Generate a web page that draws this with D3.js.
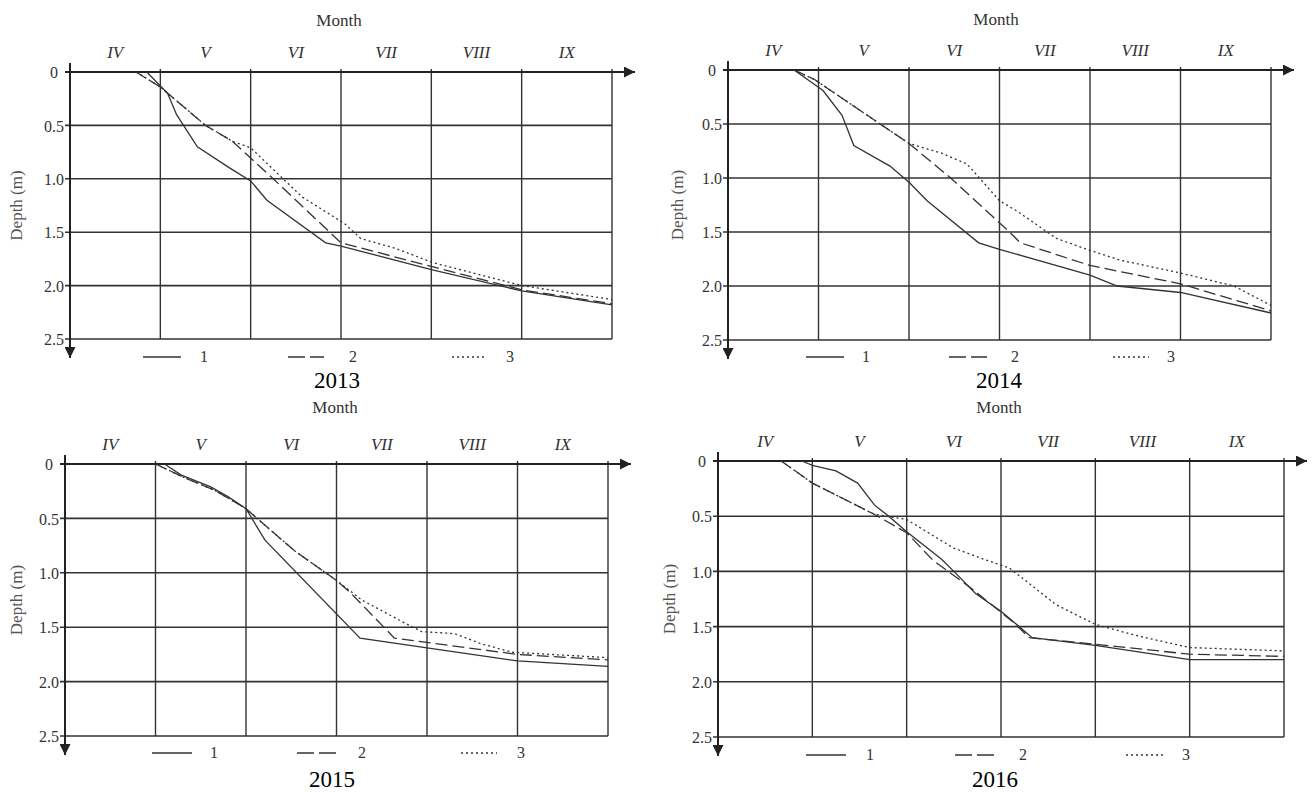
<!DOCTYPE html>
<html>
<head>
<meta charset="utf-8">
<script src="https://cdn.jsdelivr.net/npm/d3@7"></script>
<style>
  body { margin: 0; background: #fff; }
  svg text { font-family: "Liberation Serif", "DejaVu Serif", serif; }
</style>
</head>
<body>
<svg id="chart" width="1312" height="792"></svg>
<script>
// month labels (IV = April ... IX = September), depth ticks in metres
const months = ["IV", "V", "VI", "VII", "VIII", "IX"];
const depthTicks = [0, 0.5, 1.0, 1.5, 2.0, 2.5];
const years = ["2013", "2014", "2015", "2016"];
const seriesNames = ["1", "2", "3"];

// [months since start of April, freezing depth m]
const d2013_1 = [[0.85,0],[1.08,0.2],[1.18,0.4],[1.41,0.7],[1.77,0.9],[2.0,1.02],[2.18,1.2],[2.83,1.6],[3.0,1.63],[4.0,1.85],[5.0,2.05],[6.0,2.18]];
const d2013_2 = [[0.73,0],[1.0,0.14],[1.5,0.5],[1.8,0.65],[2.25,1.0],[3.0,1.6],[4.0,1.82],[5.0,2.04],[6.0,2.17]];
const d2013_3 = [[0.73,0],[1.0,0.14],[1.5,0.5],[1.8,0.65],[2.0,0.71],[2.57,1.17],[3.04,1.42],[3.22,1.56],[3.6,1.65],[4.0,1.78],[5.0,2.0],[6.0,2.13]];

const d2014_1 = [[0.73,0],[1.05,0.19],[1.26,0.42],[1.39,0.7],[1.79,0.89],[2.0,1.04],[2.2,1.21],[2.77,1.6],[3.0,1.66],[4.0,1.9],[4.3,2.0],[5.0,2.06],[6.0,2.25]];
const d2014_2 = [[0.73,0],[0.96,0.09],[1.68,0.5],[2.0,0.68],[2.46,1.0],[3.11,1.5],[3.23,1.6],[4.0,1.81],[5.0,1.98],[6.0,2.23]];
const d2014_3 = [[0.73,0],[0.96,0.09],[1.68,0.5],[2.0,0.68],[2.36,0.77],[2.64,0.87],[3.0,1.21],[3.2,1.31],[3.63,1.56],[4.0,1.67],[4.33,1.76],[5.0,1.88],[5.59,2.0],[6.0,2.18]];

const d2015_1 = [[1.1,0],[1.28,0.1],[1.61,0.21],[1.8,0.3],[2.0,0.41],[2.21,0.7],[3.26,1.6],[4.0,1.69],[5.0,1.81],[6.0,1.86]];
const d2015_2 = [[1.0,0],[1.33,0.13],[1.65,0.24],[2.0,0.41],[2.15,0.52],[2.54,0.8],[3.0,1.07],[3.15,1.18],[3.64,1.6],[4.0,1.64],[5.0,1.75],[6.0,1.8]];
const d2015_3 = [[1.0,0],[1.33,0.13],[1.65,0.24],[2.0,0.41],[2.15,0.52],[2.54,0.8],[3.0,1.07],[3.28,1.25],[3.75,1.46],[3.94,1.54],[4.31,1.56],[4.59,1.65],[4.94,1.73],[6.0,1.78]];

const d2016_1 = [[0.89,0],[1.0,0.04],[1.25,0.09],[1.48,0.2],[1.66,0.4],[1.81,0.5],[2.0,0.64],[2.37,0.89],[2.5,1.0],[2.73,1.2],[3.0,1.36],[3.33,1.6],[4.0,1.67],[5.0,1.8],[6.0,1.8]];
const d2016_2 = [[0.67,0],[1.0,0.2],[1.65,0.48],[2.0,0.65],[2.28,0.9],[2.68,1.15],[3.13,1.46],[3.3,1.6],[4.0,1.66],[5.0,1.75],[6.0,1.77]];
const d2016_3 = [[0.67,0],[1.0,0.2],[1.65,0.48],[2.0,0.53],[2.23,0.65],[2.5,0.79],[2.82,0.89],[3.09,0.97],[3.33,1.13],[3.58,1.3],[4.0,1.48],[4.43,1.58],[5.0,1.69],[6.0,1.72]];

const allSeries = [
    [d2013_1, d2013_2, d2013_3],
    [d2014_1, d2014_2, d2014_3],
    [d2015_1, d2015_2, d2015_3],
    [d2016_1, d2016_2, d2016_3]
];

// panel layout (pixels)
const layout = [
    {x0: 70,  x1: 612,  y0: 72,  y1: 339, titleX: 339, titleY: 26,  yearX: 337, yearY: 388, depthX: 22,  legY: 357, leg: [[143,181,204],[288,324,353],[452,487,510]]},
    {x0: 728, x1: 1271, y0: 70,  y1: 340, titleX: 996, titleY: 25,  yearX: 999, yearY: 388, depthX: 683, legY: 357, leg: [[806,844,866],[949,987,1015],[1113,1149,1171]]},
    {x0: 65,  x1: 608,  y0: 464, y1: 736, titleX: 335, titleY: 413, yearX: 332, yearY: 787, depthX: 22,  legY: 753, leg: [[152,192,214],[297,337,362],[461,497,521]]},
    {x0: 718, x1: 1284, y0: 461, y1: 737, titleX: 999, titleY: 413, yearX: 995, yearY: 787, depthX: 675, legY: 755, leg: [[806,846,870],[955,997,1023],[1126,1164,1186]]}
];

const dashes = [null, "12,5", "2,3"];
const ink = "#333";

const svg = d3.select("#chart");

const defs = svg.append("defs");
defs.append("marker")
    .attr("id", "arrowR")
    .attr("viewBox", "0 0 10 10")
    .attr("refX", 10).attr("refY", 5)
    .attr("markerWidth", 6).attr("markerHeight", 5.5)
    .attr("markerUnits", "strokeWidth")
    .attr("orient", "auto")
    .append("path").attr("d", "M0,0L10,5L0,10Z").attr("fill", "#222");

layout.forEach((p, i) => {
    const x = d3.scaleLinear().domain([0, months.length]).range([p.x0, p.x1]);
    const y = d3.scaleLinear().domain([0, 2.5]).range([p.y0, p.y1]);
    const g = svg.append("g");

    // horizontal grid + left ticks
    g.append("g")
        .selectAll("line")
        .data(depthTicks.slice(1))
        .join("line")
        .attr("x1", p.x0 - 5).attr("x2", p.x1)
        .attr("y1", d => y(d)).attr("y2", d => y(d))
        .attr("stroke", ink).attr("stroke-width", 1.6);

    // vertical month lines (poke slightly above the top axis)
    g.append("g")
        .selectAll("line")
        .data(d3.range(1, months.length + 1))
        .join("line")
        .attr("x1", d => x(d)).attr("x2", d => x(d))
        .attr("y1", y(0) - 3).attr("y2", y(2.5))
        .attr("stroke", ink).attr("stroke-width", 1.4);

    // depth axis labels
    const yAxis = d3.axisLeft(y).tickValues(depthTicks).tickSize(0);
    const ya = g.append("g").attr("transform", `translate(${p.x0},0)`).call(yAxis);
    ya.select(".domain").remove();
    ya.selectAll("text")
        .text(d => d === 0 ? "0" : d3.format(".1f")(d))
        .attr("x", -16)
        .attr("dy", "0.36em")
        .attr("text-anchor", "middle")
        .attr("fill", ink)
        .attr("font-size", 16)
        .attr("font-family", "Liberation Serif, serif");

    // month labels
    g.append("g")
        .selectAll("text")
        .data(months)
        .join("text")
        .attr("x", (d, k) => x(k + 0.5))
        .attr("y", p.y0 - 14)
        .attr("text-anchor", "middle")
        .attr("font-style", "italic")
        .attr("font-size", 17)
        .attr("fill", ink)
        .text(d => d);

    // top (x) axis with arrow
    g.append("line")
        .attr("x1", p.x0 - 5).attr("x2", p.x1 + 23)
        .attr("y1", y(0)).attr("y2", y(0))
        .attr("stroke", "#222").attr("stroke-width", 2)
        .attr("marker-end", "url(#arrowR)");

    // left (y) axis with arrow
    g.append("line")
        .attr("x1", p.x0).attr("x2", p.x0)
        .attr("y1", p.y0 - 9).attr("y2", p.y1 + 19)
        .attr("stroke", "#222").attr("stroke-width", 2)
        .attr("marker-end", "url(#arrowR)");

    // series
    const line = d3.line().x(d => x(d[0])).y(d => y(d[1]));
    g.append("g")
        .selectAll("path")
        .data(allSeries[i])
        .join("path")
        .attr("d", line)
        .attr("fill", "none")
        .attr("stroke", ink)
        .attr("stroke-width", 1.3)
        .attr("stroke-dasharray", (d, k) => dashes[k]);

    // legend
    const lg = g.append("g");
    p.leg.forEach((l, k) => {
        lg.append("line")
            .attr("x1", l[0]).attr("x2", l[1])
            .attr("y1", p.legY).attr("y2", p.legY)
            .attr("stroke", ink).attr("stroke-width", 1.5)
            .attr("stroke-dasharray", k === 1 ? "17,5" : dashes[k]);
        lg.append("text")
            .attr("x", l[2]).attr("y", p.legY + 5)
            .attr("text-anchor", "middle")
            .attr("font-size", 16)
            .attr("fill", ink)
            .text(seriesNames[k]);
    });

    // titles
    g.append("text")
        .attr("x", p.titleX).attr("y", p.titleY)
        .attr("text-anchor", "middle")
        .attr("font-size", 17)
        .attr("fill", ink)
        .text("Month");

    g.append("text")
        .attr("transform", `translate(${p.depthX},${(p.y0 + p.y1) / 2}) rotate(-90)`)
        .attr("text-anchor", "middle")
        .attr("font-size", 17)
        .attr("fill", "#555")
        .text("Depth (m)");

    g.append("text")
        .attr("x", p.yearX).attr("y", p.yearY)
        .attr("text-anchor", "middle")
        .attr("font-size", 23)
        .attr("fill", "#000")
        .text(years[i]);
});
</script>
</body>
</html>
